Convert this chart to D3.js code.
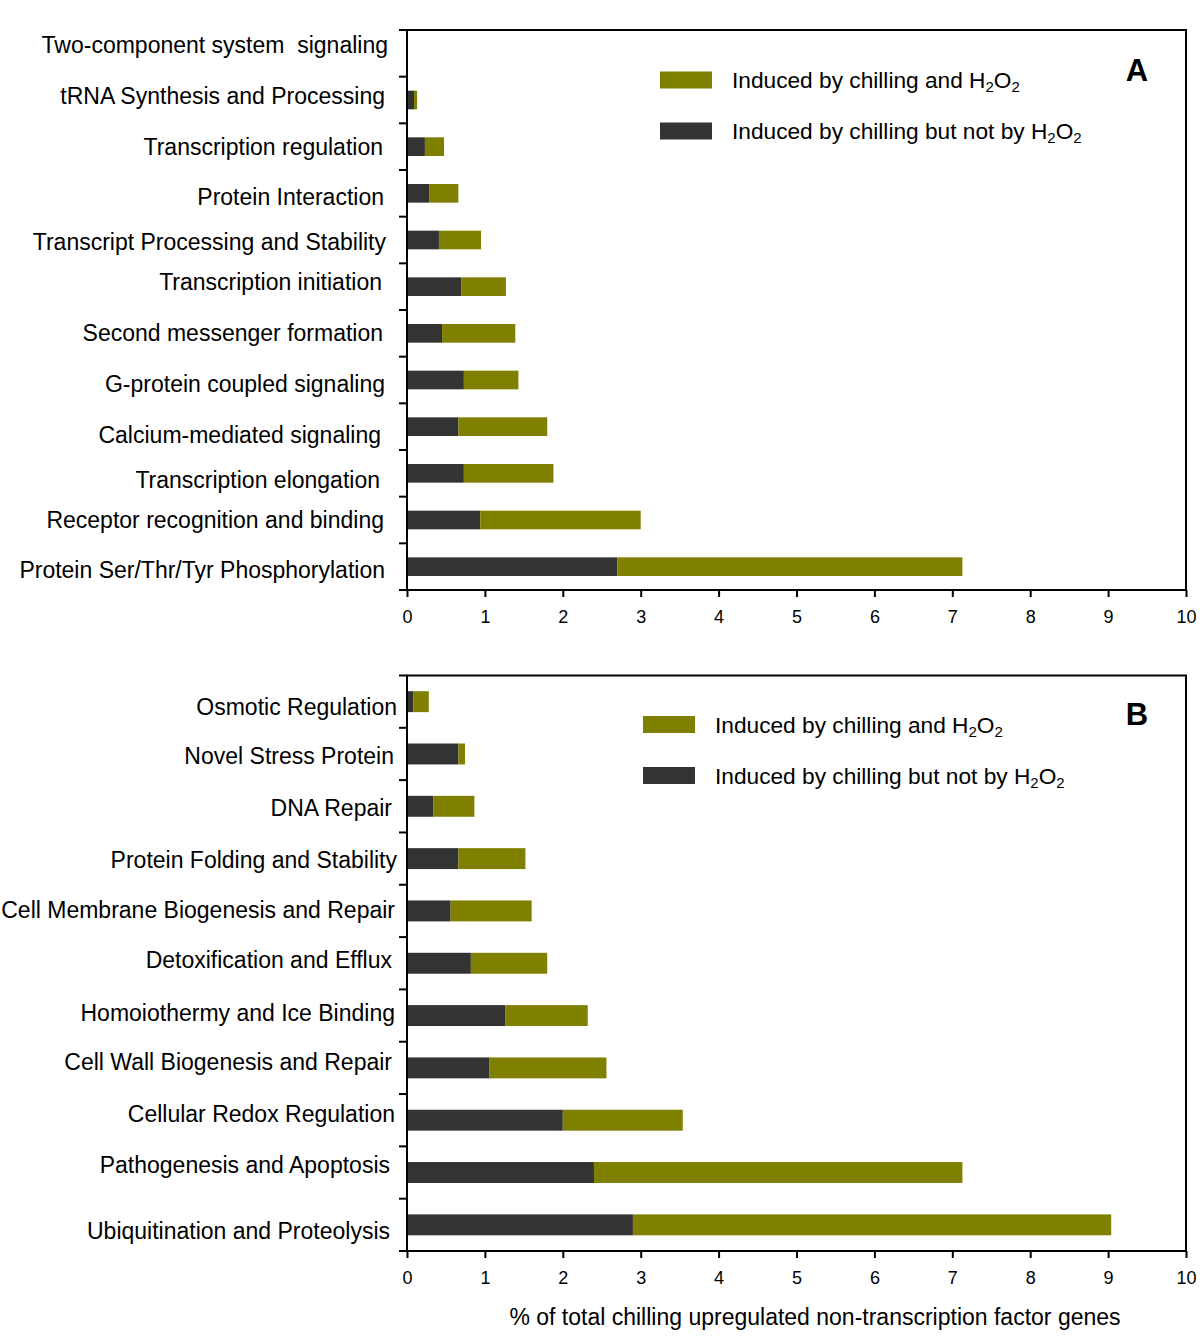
<!DOCTYPE html>
<html>
<head>
<meta charset="utf-8">
<script src="https://cdn.jsdelivr.net/npm/d3@7"></script>
<style>
  body { margin: 0; background: #fff; }
  svg text { font-family: "Liberation Sans", Arial, sans-serif; fill: #000; white-space: pre; }
</style>
</head>
<body>
<svg id="chart" width="1200" height="1343"></svg>
<script>
// ---- Data ----
const categoriesA = [
  "Two-component system  signaling",
  "tRNA Synthesis and Processing",
  "Transcription regulation",
  "Protein Interaction",
  "Transcript Processing and Stability",
  "Transcription initiation",
  "Second messenger formation",
  "G-protein coupled signaling",
  "Calcium-mediated signaling",
  "Transcription elongation",
  "Receptor recognition and binding",
  "Protein Ser/Thr/Tyr Phosphorylation"
];
// induced by chilling but not by H2O2 (dark)
const notH2O2A = [0, 0.09, 0.23, 0.29, 0.41, 0.70, 0.45, 0.73, 0.66, 0.73, 0.94, 2.70];
// induced by chilling and H2O2 (olive)
const bothA    = [0, 0.04, 0.245, 0.37, 0.54, 0.57, 0.94, 0.70, 1.14, 1.15, 2.06, 4.43];

const categoriesB = [
  "Osmotic Regulation",
  "Novel Stress Protein",
  "DNA Repair",
  "Protein Folding and Stability",
  "Cell Membrane Biogenesis and Repair",
  "Detoxification and Efflux",
  "Homoiothermy and Ice Binding",
  "Cell Wall Biogenesis and Repair",
  "Cellular Redox Regulation",
  "Pathogenesis and Apoptosis",
  "Ubiquitination and Proteolysis"
];
const notH2O2B = [0.08, 0.66, 0.34, 0.66, 0.56, 0.82, 1.26, 1.06, 2.00, 2.40, 2.90];
const bothB    = [0.20, 0.085, 0.525, 0.86, 1.04, 0.98, 1.06, 1.50, 1.54, 4.73, 6.14];

const xTicks = [0, 1, 2, 3, 4, 5, 6, 7, 8, 9, 10];
const xAxisTitle = "% of total chilling upregulated non-transcription factor genes";

const colors = { both: "#808000", notH2O2: "#333333" };

const svg = d3.select("#chart");

function panel(opts) {
  const { cats, dark, olive, top, bottom, labelX, letter, legendX, legendY, labelOffsets, labelXOffsets } = opts;
  const left = 407, right = 1186;
  const x = d3.scaleLinear().domain([0, 10]).range([left, right]);
  const y = d3.scaleBand().domain(cats).range([top, bottom]).paddingInner(0.6).paddingOuter(0.3);
  const step = y.step();
  const g = svg.append("g");

  // bars
  const rows = cats.map((c, i) => ({ c, d: dark[i], o: olive[i] }));
  g.selectAll("rect.dark").data(rows).join("rect")
    .attr("x", x(0)).attr("y", d => y(d.c))
    .attr("width", d => x(d.d) - x(0)).attr("height", y.bandwidth())
    .attr("fill", colors.notH2O2);
  g.selectAll("rect.olive").data(rows).join("rect")
    .attr("x", d => x(d.d)).attr("y", d => y(d.c))
    .attr("width", d => x(d.d + d.o) - x(d.d)).attr("height", y.bandwidth())
    .attr("fill", colors.both);

  // frame
  g.append("rect").attr("x", left).attr("y", top).attr("width", right - left).attr("height", bottom - top)
    .attr("fill", "none").attr("stroke", "#000").attr("stroke-width", 2);

  // y ticks at band boundaries
  const bounds = d3.range(cats.length + 1).map(i => top + i * step);
  g.selectAll("line.yt").data(bounds).join("line")
    .attr("x1", left - 8).attr("x2", left).attr("y1", d => d).attr("y2", d => d)
    .attr("stroke", "#000").attr("stroke-width", 2);

  // category labels
  g.selectAll("text.cat").data(rows).join("text")
    .attr("x", (d, i) => labelX + (labelXOffsets ? labelXOffsets[i] : 0))
    .attr("y", (d, i) => y(d.c) + y.bandwidth() / 2 + (labelOffsets ? labelOffsets[i] : 0))
    .attr("text-anchor", "end").attr("dominant-baseline", "central")
    .attr("font-size", 23).text(d => d.c);

  // x axis
  const ax = d3.axisBottom(x).tickValues(xTicks).tickSize(7).tickFormat(d3.format("d"));
  const axG = g.append("g").attr("transform", `translate(0,${bottom})`).call(ax);
  axG.select(".domain").remove();
  axG.selectAll(".tick line").attr("stroke", "#000").attr("stroke-width", 2);
  axG.selectAll(".tick text").attr("font-size", 18).attr("y", 27).attr("dy", null)
    .attr("dominant-baseline", "central")
    .style("font-family", "'Liberation Sans', Arial, sans-serif");

  // panel letter
  g.append("text").attr("x", 1137).attr("y", letter.y).attr("text-anchor", "middle")
    .attr("dominant-baseline", "central").attr("font-size", 31).attr("font-weight", "bold").text(letter.t);

  // legend
  const leg = [
    { color: colors.both, parts: ["Induced by chilling and H", "2", "O", "2"] },
    { color: colors.notH2O2, parts: ["Induced by chilling but not by H", "2", "O", "2"] }
  ];
  leg.forEach((l, i) => {
    const ly = legendY + i * 51;
    g.append("rect").attr("x", legendX).attr("y", ly - 8.5).attr("width", 52).attr("height", 17)
      .attr("fill", l.color);
    const t = g.append("text").attr("x", legendX + 72).attr("y", ly)
      .attr("dominant-baseline", "central").attr("font-size", 22.7);
    t.append("tspan").text(l.parts[0]);
    t.append("tspan").attr("font-size", 15).attr("dy", 6).text(l.parts[1]);
    t.append("tspan").attr("dy", -6).text(l.parts[2]);
    t.append("tspan").attr("font-size", 15).attr("dy", 6).text(l.parts[3]);
  });
}

panel({
  cats: categoriesA, dark: notH2O2A, olive: bothA, top: 30, bottom: 590, labelX: 385,
  letter: { t: "A", y: 70 }, legendX: 660, legendY: 80,
  labelOffsets: [-8, -4, 0, 4, 2, -5, 0, 4, 8, 7, 0, 3],
  labelXOffsets: [3, 0, -2, -1, 1, -3, -2, 0, -4, -5, -1, 0]
});
panel({
  cats: categoriesB, dark: notH2O2B, olive: bothB, top: 675.5, bottom: 1251, labelX: 395,
  letter: { t: "B", y: 714 }, legendX: 643, legendY: 724.5,
  labelOffsets: [5, 2, 2, 1, -1, -3, -3, -6, -6, -8, 6],
  labelXOffsets: [2, -1, -3, 2, 0, -3, 0, -3, 0, -5, -5]
});

svg.append("text").attr("x", 815).attr("y", 1317).attr("text-anchor", "middle")
  .attr("dominant-baseline", "central").attr("font-size", 23).text(xAxisTitle);
</script>
</body>
</html>
